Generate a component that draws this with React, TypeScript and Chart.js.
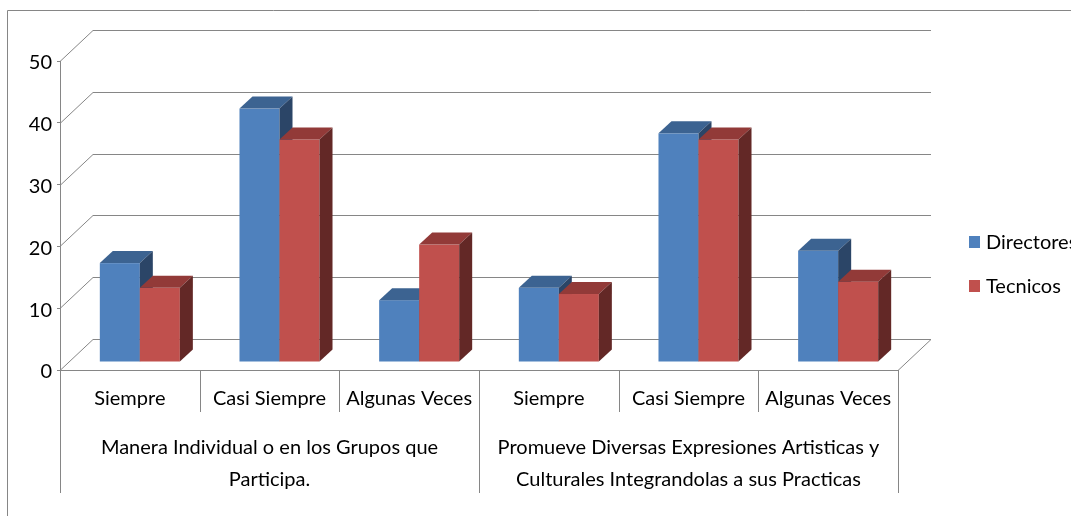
import React, { useEffect, useRef } from 'react';
import { Chart, registerables } from 'chart.js';

Chart.register(...registerables);

// ---------- data ----------
const categories = ['Siempre', 'Casi Siempre', 'Algunas Veces', 'Siempre', 'Casi Siempre', 'Algunas Veces'];
const groupLabels = [
  ['Manera Individual o en los Grupos que', 'Participa.'],
  ['Promueve Diversas Expresiones Artisticas y', 'Culturales Integrandolas a sus Practicas'],
];
const groupSize = 3;
const seriesNames = ['Directores', 'Tecnicos'];
const directores = [16, 41, 10, 12, 37, 18];
const tecnicos = [12, 36, 19, 11, 36, 13];
const yMin = 0;
const yMax = 50;
const yStep = 10;

// ---------- styles ----------
const W = 1071;
const H = 516;
const FONT = "Lato, 'Liberation Sans', sans-serif";
const FONT_SIZE = 20;
const GRID = '#868686';
const FRONT = ['#4F81BD', '#C0504D'];
const TOP = ['#3C6391', '#923A38'];
const SIDE = ['#2B4567', '#632826'];

const WALL_DX = 33;
const WALL_DY = -31;
const BAR_DX = 10;
const BAR_DY = -8;
const DEPTH_DX = 13;
const DEPTH_DY = -12;

const excel3d = {
  id: 'excel3d',
  beforeDraw(chart: any) {
    const ctx = chart.ctx;
    ctx.save();
    ctx.fillStyle = '#ffffff';
    ctx.fillRect(0, 0, chart.width, chart.height);
    ctx.strokeStyle = GRID;
    ctx.lineWidth = 1;
    ctx.beginPath();
    ctx.moveTo(7.5, chart.height);
    ctx.lineTo(7.5, 10.5);
    ctx.lineTo(chart.width, 10.5);
    ctx.stroke();
    ctx.restore();
  },
  beforeDatasetsDraw(chart: any) {
    const { ctx, chartArea: a, scales } = chart;
    const y = scales.y;
    ctx.save();
    ctx.strokeStyle = GRID;
    ctx.lineWidth = 1;
    y.ticks.forEach((t: any) => {
      const py = Math.round(y.getPixelForValue(t.value)) + 0.5;
      ctx.beginPath();
      ctx.moveTo(a.left, py);
      ctx.lineTo(a.left + WALL_DX, py + WALL_DY);
      ctx.lineTo(a.right + WALL_DX, py + WALL_DY);
      ctx.stroke();
    });
    const fb = Math.round(a.bottom) + 0.5;
    ctx.beginPath();
    ctx.moveTo(a.right, fb);
    ctx.lineTo(a.right + WALL_DX, fb + WALL_DY);
    ctx.stroke();

    const metas = chart.data.datasets.map((_: any, i: number) => chart.getDatasetMeta(i));
    for (let j = 0; j < categories.length; j++) {
      metas.forEach((m: any, i: number) => {
        const el = m.data[j];
        const { x: cx, y: top, base, width } = el.getProps(['x', 'y', 'base', 'width'], true);
        const l = cx - width / 2 + BAR_DX;
        const r = l + width;
        const t = top + BAR_DY;
        const b = base + BAR_DY;
        ctx.fillStyle = FRONT[i];
        ctx.fillRect(l, t, width, b - t);
        ctx.fillStyle = TOP[i];
        ctx.beginPath();
        ctx.moveTo(l, t);
        ctx.lineTo(l + DEPTH_DX, t + DEPTH_DY);
        ctx.lineTo(r + DEPTH_DX, t + DEPTH_DY);
        ctx.lineTo(r, t);
        ctx.closePath();
        ctx.fill();
        ctx.fillStyle = SIDE[i];
        ctx.beginPath();
        ctx.moveTo(r, t);
        ctx.lineTo(r + DEPTH_DX, t + DEPTH_DY);
        ctx.lineTo(r + DEPTH_DX, b + DEPTH_DY);
        ctx.lineTo(r, b);
        ctx.closePath();
        ctx.fill();
      });
    }
    ctx.restore();
    return false;
  },
  afterDraw(chart: any) {
    const { ctx, chartArea: a, scales } = chart;
    const x = scales.x;
    ctx.save();
    ctx.strokeStyle = GRID;
    ctx.lineWidth = 1;
    for (let k = 0; k <= categories.length; k++) {
      const px = Math.round(x.getPixelForValue(k - 0.5)) + 0.5;
      const isGroup = k % groupSize === 0;
      ctx.beginPath();
      ctx.moveTo(px, a.bottom);
      ctx.lineTo(px, a.bottom + (isGroup ? 123 : 42));
      ctx.stroke();
    }
    ctx.fillStyle = '#000000';
    ctx.font = `${FONT_SIZE}px ${FONT}`;
    ctx.textAlign = 'center';
    ctx.textBaseline = 'middle';
    groupLabels.forEach((lines, g) => {
      const l = x.getPixelForValue(g * groupSize - 0.5);
      const r = x.getPixelForValue((g + 1) * groupSize - 0.5);
      const cx = (l + r) / 2;
      lines.forEach((line, li) => {
        ctx.fillText(line, cx, a.bottom + 78 + li * 32);
      });
    });
    // legend
    ctx.textAlign = 'left';
    chart.data.datasets.forEach((ds: any, i: number) => {
      const cy = 242 + i * 44;
      ctx.fillStyle = ds.backgroundColor;
      ctx.fillRect(969, cy - 6, 11, 12);
      ctx.fillStyle = '#000000';
      ctx.fillText(ds.label, 986, cy + 1);
    });
    ctx.restore();
  },
};

export default function App() {
  const ref = useRef<HTMLCanvasElement>(null);
  useEffect(() => {
    if (!ref.current) return;
    const chart = new Chart(ref.current, {
      type: 'bar',
      data: {
        labels: categories,
        datasets: [
          { label: seriesNames[0], data: directores, backgroundColor: FRONT[0] },
          { label: seriesNames[1], data: tecnicos, backgroundColor: FRONT[1] },
        ],
      },
      options: {
        animation: false,
        responsive: false,
        devicePixelRatio: 1,
        layout: { padding: { left: 0, top: 61, right: W - 898, bottom: 0 } },
        datasets: { bar: { categoryPercentage: 0.573, barPercentage: 1 } },
        plugins: { legend: { display: false }, tooltip: { enabled: false } },
        scales: {
          x: {
            offset: true,
            grid: { display: false, drawTicks: false },
            border: { display: true, color: GRID, width: 1 },
            ticks: {
              color: '#000000',
              font: { family: FONT, size: FONT_SIZE },
              padding: 17,
              maxRotation: 0,
              autoSkip: false,
            },
            afterFit: (s: any) => {
              s.height = H - 370;
            },
          },
          y: {
            min: yMin,
            max: yMax,
            grid: { drawOnChartArea: false, tickLength: 3, color: GRID },
            border: { display: true, color: GRID, width: 1 },
            ticks: {
              stepSize: yStep,
              color: '#000000',
              font: { family: FONT, size: FONT_SIZE },
              padding: 5,
              labelOffset: 2,
            },
            afterFit: (s: any) => {
              s.width = 60;
            },
          },
        },
      },
      plugins: [excel3d],
    } as any);
    return () => chart.destroy();
  }, []);
  return (
    <div style={{ position: 'absolute', left: 0, top: 0, width: W, height: H, background: '#fff' }}>
      <canvas ref={ref} width={W} height={H} style={{ display: 'block' }} />
    </div>
  );
}
